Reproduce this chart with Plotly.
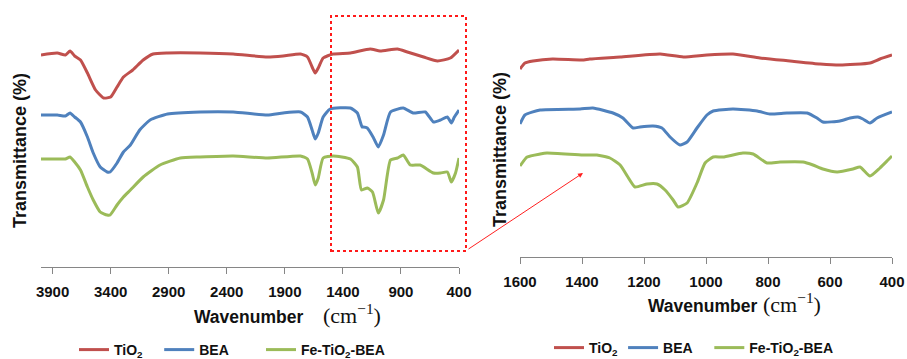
import plotly.graph_objects as go

# ---------------- data (wavenumber cm^-1, transmittance in arbitrary offset units) ----------------
left_tio2_x = [4000, 3860, 3790, 3750, 3710, 3660, 3600, 3530, 3460, 3400, 3345, 3290, 3210, 3120, 3035, 2910, 2630, 2345, 2050, 1915, 1765, 1705, 1665, 1638, 1612, 1570, 1485, 1335, 1165, 1080, 930, 845, 705, 585, 475, 400]
left_tio2_y = [212, 214, 212, 216, 211, 207, 194, 177, 169, 170, 180, 190, 197, 207, 213, 214, 214, 213, 210, 211, 213, 210, 200, 194, 199, 209, 213, 214, 218, 216, 218, 215, 210, 206, 209, 217]

left_bea_x = [4000, 3860, 3790, 3750, 3710, 3660, 3600, 3550, 3490, 3430, 3405, 3345, 3290, 3230, 3150, 3060, 2910, 2630, 2345, 2050, 1915, 1765, 1705, 1665, 1638, 1612, 1570, 1510, 1335, 1275, 1235, 1225, 1190, 1140, 1095, 1050, 990, 880, 795, 690, 620, 560, 500, 466, 440, 400]
left_bea_y = [152, 152, 151, 154, 150, 145, 130, 114, 100, 95, 95, 104, 115, 122, 137, 147, 153, 155, 155, 152, 154, 155, 150, 137, 128, 134, 150, 158, 159, 154, 140, 140, 139, 130, 120, 132, 155, 159, 154, 155, 145, 147, 150, 144, 150, 157]

left_fe_x = [4000, 3860, 3790, 3750, 3710, 3660, 3600, 3550, 3490, 3430, 3405, 3345, 3290, 3230, 3120, 2975, 2800, 2630, 2345, 2050, 1765, 1705, 1665, 1638, 1612, 1570, 1485, 1335, 1275, 1240, 1190, 1145, 1095, 1050, 990, 930, 880, 820, 735, 620, 560, 500, 466, 430, 400]
left_fe_y = [108, 108, 108, 110, 105, 97, 80, 67, 55, 52, 52, 62, 70, 77, 90, 102, 109, 110, 111, 109, 111, 108, 94, 82, 89, 109, 111, 108, 100, 77, 79, 75, 54, 67, 107, 109, 112, 102, 102, 94, 94, 95, 85, 94, 109]

right_tio2_x = [1600, 1584, 1558, 1495, 1400, 1375, 1277, 1148, 1073, 997, 913, 826, 729, 632, 568, 471, 439, 400]
right_tio2_y = [188, 194, 196, 198, 197, 198, 200, 203, 200, 202, 203, 199, 196, 193, 192, 194, 198, 202]

right_bea_x = [1600, 1584, 1535, 1406, 1365, 1300, 1268, 1235, 1213, 1171, 1142, 1116, 1084, 1061, 1029, 997, 977, 913, 835, 794, 739, 674, 642, 623, 568, 535, 510, 494, 471, 448, 400]
right_bea_y = [133, 142, 147, 148, 149, 144, 139, 129, 130, 131, 129, 120, 112, 115, 129, 142, 146, 148, 146, 143, 144, 144, 139, 135, 136, 139, 140, 138, 134, 139, 145]

right_fe_x = [1600, 1577, 1535, 1513, 1397, 1352, 1310, 1277, 1252, 1229, 1190, 1158, 1132, 1106, 1090, 1061, 1029, 1003, 977, 945, 881, 848, 803, 761, 687, 655, 623, 577, 526, 503, 471, 439, 413, 400]
right_fe_y = [91, 100, 103, 104, 102, 102, 99, 92, 80, 70, 73, 73, 67, 57, 50, 54, 74, 94, 100, 100, 104, 103, 94, 95, 95, 92, 88, 85, 88, 90, 81, 89, 97, 101]

series_names = ["<b>TiO<sub>2</sub></b>", "<b>BEA</b>", "<b>Fe-TiO<sub>2</sub>-BEA</b>"]
left_ticks = [3900, 3400, 2900, 2400, 1900, 1400, 900, 400]
right_ticks = [1600, 1400, 1200, 1000, 800, 600, 400]

colors = ["#C0504D", "#4F81BD", "#9BBB59"]
W, H = 907, 359
FONT = "Liberation Sans"
NB = "\u00a0"
# trailing non-breaking spaces only widen the gap between legend entries
left_pad = [NB * 3, NB * 7, ""]
right_pad = ["", NB * 3, ""]

fig = go.Figure()
left = [(left_tio2_x, left_tio2_y), (left_bea_x, left_bea_y), (left_fe_x, left_fe_y)]
right = [(right_tio2_x, right_tio2_y), (right_bea_x, right_bea_y), (right_fe_x, right_fe_y)]
for i, (xs, ys) in enumerate(left):
    fig.add_trace(go.Scatter(x=xs, y=ys, mode="lines", name=series_names[i] + left_pad[i],
                             line=dict(color=colors[i], width=3, shape="spline", smoothing=0.5),
                             xaxis="x", yaxis="y", legend="legend"))
for i, (xs, ys) in enumerate(right):
    fig.add_trace(go.Scatter(x=xs, y=ys, mode="lines", name=series_names[i] + right_pad[i],
                             line=dict(color=colors[i], width=3, shape="spline", smoothing=0.5),
                             xaxis="x2", yaxis="y2", legend="legend2"))

def px_x(p):
    return p / W

def px_y(p):
    return 1 - p / H

axis_common = dict(showline=True, linecolor="#868686", linewidth=1, ticks="outside",
                   tickcolor="#868686", ticklen=6, tickwidth=1, showgrid=False, zeroline=False,
                   tickfont=dict(family=FONT, size=15, color="#111111", weight="bold"),
                   ticklabelstandoff=5, automargin=False)

fig.update_layout(
    width=W, height=H, margin=dict(l=0, r=0, t=0, b=0, autoexpand=False),
    paper_bgcolor="white", plot_bgcolor="white",
    xaxis=dict(domain=[px_x(41), px_x(459)], range=[4000, 400], tickvals=left_ticks,
               anchor="y", **axis_common),
    yaxis=dict(domain=[px_y(267), px_y(15)], range=[0, 252], visible=False, anchor="x"),
    xaxis2=dict(domain=[px_x(520), px_x(892)], range=[1600, 400], tickvals=right_ticks,
                anchor="y2", **axis_common),
    yaxis2=dict(domain=[px_y(257), px_y(15)], range=[0, 242], visible=False, anchor="x2"),
    legend=dict(orientation="h", x=px_x(74), y=px_y(350), xanchor="left", yanchor="middle",
                font=dict(family=FONT, size=14, color="#111111"), itemwidth=30,
                bgcolor="rgba(0,0,0,0)", tracegroupgap=0),
    legend2=dict(orientation="h", x=px_x(549), y=px_y(348), xanchor="left", yanchor="middle",
                 font=dict(family=FONT, size=14, color="#111111"), itemwidth=30,
                 bgcolor="rgba(0,0,0,0)", tracegroupgap=0),
    showlegend=True,
)

# dotted red box highlighting the 1500-400 region
fig.add_shape(type="rect", xref="paper", yref="paper",
              x0=px_x(331), x1=px_x(466), y0=px_y(251), y1=px_y(16),
              line=dict(color="#FF1A1A", width=2, dash="dot"))

# arrow from the box to the zoomed panel
fig.add_annotation(xref="paper", yref="paper", x=px_x(583), y=px_y(173),
                   ax=467 - 583, ay=250 - 173, axref="pixel", ayref="pixel",
                   showarrow=True, arrowhead=2, arrowsize=1, arrowwidth=1,
                   arrowcolor="#FF2020", text="")

# axis titles
for cx, cy, cmx in [(249, 317, 321), (702, 306, 761)]:
    fig.add_annotation(xref="paper", yref="paper", x=px_x(cx), y=px_y(cy),
                       text="<b>Wavenumber</b>", showarrow=False, xanchor="center", yanchor="middle",
                       font=dict(family=FONT, size=17.5, color="#111111"))
    fig.add_annotation(xref="paper", yref="paper", x=px_x(cmx), y=px_y(cy - 3),
                       text="(cm<sup>\u22121</sup>)", showarrow=False, xanchor="left", yanchor="middle",
                       font=dict(family="Liberation Serif", size=22, color="#111111"))

for cx, cy in [(20, 151), (500, 150)]:
    fig.add_annotation(xref="paper", yref="paper", x=px_x(cx), y=px_y(cy),
                       text="<b>Transmittance (%)</b>", showarrow=False, textangle=-90,
                       xanchor="center", yanchor="middle",
                       font=dict(family=FONT, size=18, color="#111111"))

fig.write_html("out.html", config={"displayModeBar": False},
               post_script=["document.body.style.margin='0px';"])
